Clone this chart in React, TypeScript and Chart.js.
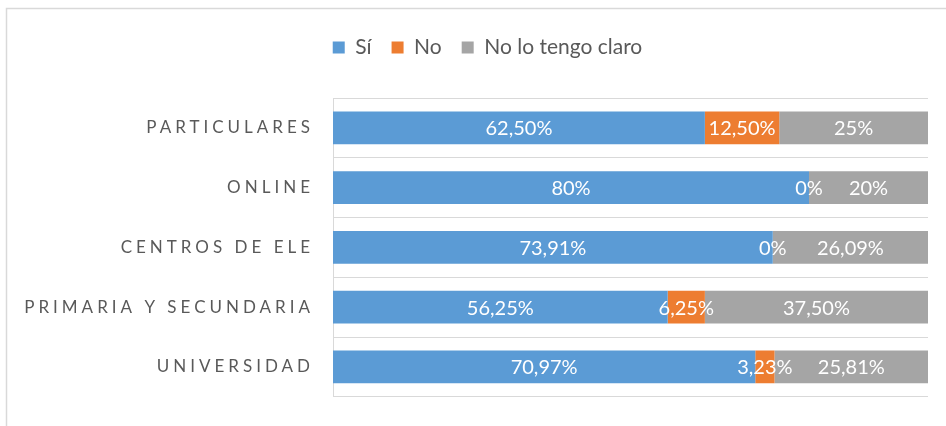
import React, { useEffect, useRef } from 'react';
import { Chart, registerables } from 'chart.js';

Chart.register(...registerables);

const categories = ['PARTICULARES', 'ONLINE', 'CENTROS DE ELE', 'PRIMARIA Y SECUNDARIA', 'UNIVERSIDAD'];
const siValues = [62.5, 80, 73.91, 56.25, 70.97];
const noValues = [12.5, 0, 0, 6.25, 3.23];
const noClaroValues = [25, 20, 26.09, 37.5, 25.81];
const seriesNames = ['Sí', 'No', 'No lo tengo claro'];
const seriesColors = ['#5B9BD5', '#ED7D31', '#A5A5A5'];

const FONT = 'Lato, "DejaVu Sans", sans-serif';
const TEXT_GRAY = '#595959';
const LINE_GRAY = '#D9D9D9';

const fmt = (v: number) => (Number.isInteger(v) ? String(v) : v.toFixed(2).replace('.', ',')) + '%';

const framePlugin = {
  id: 'frame',
  beforeDraw(chart: any) {
    const ctx = chart.ctx;
    ctx.save();
    ctx.fillStyle = '#FFFFFF';
    ctx.fillRect(0, 0, chart.width, chart.height);
    ctx.strokeStyle = LINE_GRAY;
    ctx.lineWidth = 1.5;
    ctx.beginPath();
    ctx.moveTo(6.5, chart.height);
    ctx.lineTo(6.5, 8.5);
    ctx.lineTo(chart.width, 8.5);
    ctx.stroke();
    ctx.restore();
    // letter-spaced category labels on the y axis, not clipped to the axis box
    const s: any = chart.scales.y;
    if (s && !s._spaced) {
      const orig = s.drawLabels.bind(s);
      s._computeLabelArea = () => undefined;
      s.drawLabels = (area: any) => {
        const c = s.ctx;
        c.save();
        c.letterSpacing = '4px';
        orig(area);
        c.restore();
      };
      s._spaced = true;
    }
  },
};

const labelPlugin = {
  id: 'segLabels',
  afterDatasetsDraw(chart: any) {
    const ctx = chart.ctx;
    ctx.save();
    ctx.font = `20px ${FONT}`;
    ctx.fillStyle = '#FFFFFF';
    ctx.textAlign = 'center';
    ctx.textBaseline = 'middle';
    chart.data.datasets.forEach((ds: any, di: number) => {
      const meta = chart.getDatasetMeta(di);
      meta.data.forEach((el: any, i: number) => {
        const cx = (el.x + el.base) / 2;
        ctx.fillText(fmt(ds.data[i]), cx, el.y + 1);
      });
    });
    ctx.restore();
  },
};

export default function App() {
  const ref = useRef<HTMLCanvasElement | null>(null);
  useEffect(() => {
    if (!ref.current) return;
    const chart = new Chart(ref.current, {
      type: 'bar',
      data: {
        labels: categories,
        datasets: [
          { label: seriesNames[0], data: siValues, backgroundColor: seriesColors[0] },
          { label: seriesNames[1], data: noValues, backgroundColor: seriesColors[1] },
          { label: seriesNames[2], data: noClaroValues, backgroundColor: seriesColors[2] },
        ],
      },
      options: {
        indexAxis: 'y',
        responsive: false,
        animation: false,
        devicePixelRatio: 1,
        datasets: { bar: { categoryPercentage: 1, barPercentage: 0.55, borderWidth: 0 } },
        layout: { padding: { left: 47, right: 18, top: 17, bottom: 26 } },
        plugins: {
          tooltip: { enabled: false },
          legend: {
            position: 'top',
            align: 'center',
            labels: {
              boxWidth: 12,
              boxHeight: 12,
              padding: 20,
              color: TEXT_GRAY,
              font: { family: FONT, size: 21 },
            },
          },
        },
        scales: {
          x: {
            position: 'top',
            stacked: true,
            min: 0,
            max: 100,
            grid: { display: false },
            border: { display: false },
            ticks: { display: false },
            afterFit: (s: any) => { s.height = 30; },
          },
          y: {
            stacked: true,
            grid: { color: LINE_GRAY, lineWidth: 1, drawTicks: false, offset: true },
            border: { display: true, color: LINE_GRAY, width: 1 },
            ticks: { color: TEXT_GRAY, padding: 19, font: { family: FONT, size: 17 } },
            afterFit: (s: any) => { s.width = 286; },
          },
        },
      },
      plugins: [framePlugin, labelPlugin],
    });
    return () => chart.destroy();
  }, []);
  return (
    <div style={{ position: 'absolute', left: 0, top: 0, width: 946, height: 426 }}>
      <canvas ref={ref} width={946} height={426} style={{ display: 'block' }} />
    </div>
  );
}
